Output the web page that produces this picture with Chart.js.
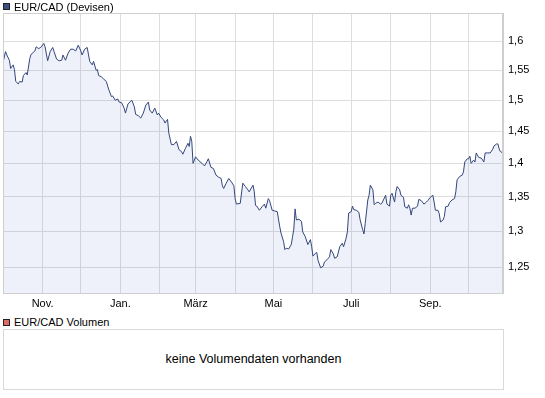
<!DOCTYPE html>
<html>
<head>
<meta charset="utf-8">
<script src="https://cdn.jsdelivr.net/npm/chart.js@4.4.0/dist/chart.umd.min.js"></script>
<style>
    body {
        margin: 0;
        width: 545px;
        height: 398px;
        background: #ffffff;
        position: relative;
        overflow: hidden;
        font-family: "Liberation Sans", Arial, sans-serif;
        font-size: 11px;
        color: #000000;
    }

    #priceChart {
        position: absolute;
        left: 0;
        top: 0;
    }

    .square {
        position: absolute;
        left: 3px;
        width: 5px;
        height: 5px;
        border: 1px solid #222222;
    }

    .legendText {
        position: absolute;
        left: 14px;
        line-height: 12px;
        white-space: nowrap;
    }

    #volumeBox {
        position: absolute;
        left: 3px;
        top: 329px;
        width: 501px;
        height: 61px;
        box-sizing: border-box;
        border: 1px solid #d9d9d9;
        text-align: center;
        line-height: 59px;
        font-size: 12.5px;
    }
</style>
</head>
<body>

<canvas id="priceChart" width="545" height="310"></canvas>

<div class="square" style="top:3px; background:#3d4f80;"></div>
<div class="legendText" style="top:1px;">EUR/CAD (Devisen)</div>

<div class="square" style="top:319px; background:#d86d67;"></div>
<div class="legendText" style="top:316px;">EUR/CAD Volumen</div>

<div id="volumeBox">keine Volumendaten vorhanden</div>

<script>
// days counted from 2009-10-01
const dayOffsets = [
    0, 2, 3, 5, 6, 8, 9, 10, 12, 13, 15, 16, 18, 19, 21, 22, 25, 26, 28, 30,
    32, 33, 35, 37, 39, 40, 42, 44, 46, 47, 49, 51, 53, 55, 57, 59, 61, 62, 64, 66,
    68, 70, 71, 73, 74, 75, 77, 79, 81, 83, 85, 86, 88, 90, 91, 93, 95, 96, 98, 101,
    103, 104, 106, 108, 110, 112, 114, 115, 117, 119, 121, 122, 124, 126, 127, 129, 130, 132, 134, 136,
    138, 140, 141, 143, 145, 146, 147, 148, 149, 151, 153, 156, 158, 160, 161, 163, 165, 167, 169, 171,
    172, 173, 175, 177, 179, 181, 182, 183, 186, 188, 190, 192, 193, 196, 197, 198, 199, 201, 203, 205,
    206, 208, 209, 211, 213, 215, 217, 218, 220, 221, 222, 224, 226, 227, 228, 229, 230, 232, 234, 235,
    237, 239, 241, 242, 243, 245, 246, 247, 249, 251, 252, 254, 256, 257, 259, 260, 262, 264, 266, 267,
    269, 270, 271, 273, 274, 275, 277, 279, 280, 282, 283, 284, 286, 287, 288, 290, 291, 292, 294, 296,
    297, 300, 301, 303, 304, 305, 307, 308, 309, 311, 312, 314, 315, 317, 318, 319, 320, 321, 323, 325,
    326, 328, 330, 332, 333, 335, 337, 338, 339, 341, 342, 343, 345, 346, 347, 349, 350, 352, 354, 355,
    356, 358, 360, 361, 362, 364, 365, 366, 367, 369, 370, 371, 373, 375, 377, 378, 380, 382, 384, 385,
    387, 388, 389, 390, 392
];

const closeValues = [
    1.563, 1.582, 1.576, 1.567, 1.553, 1.559, 1.551, 1.531, 1.527, 1.531, 1.530, 1.541, 1.546, 1.542, 1.570, 1.577, 1.583, 1.590, 1.587, 1.590,
    1.596, 1.590, 1.566, 1.582, 1.589, 1.582, 1.569, 1.566, 1.567, 1.576, 1.567, 1.579, 1.586, 1.586, 1.583, 1.593, 1.583, 1.576, 1.586, 1.589,
    1.565, 1.559, 1.565, 1.550, 1.551, 1.541, 1.539, 1.535, 1.531, 1.517, 1.506, 1.507, 1.500, 1.502, 1.497, 1.496, 1.487, 1.479, 1.494, 1.500,
    1.489, 1.477, 1.475, 1.471, 1.479, 1.492, 1.497, 1.484, 1.479, 1.487, 1.476, 1.479, 1.472, 1.468, 1.463, 1.469, 1.447, 1.429, 1.429, 1.434,
    1.421, 1.418, 1.414, 1.423, 1.431, 1.426, 1.442, 1.434, 1.400, 1.410, 1.405, 1.400, 1.396, 1.403, 1.407, 1.394, 1.392, 1.382, 1.379, 1.377,
    1.366, 1.362, 1.370, 1.377, 1.372, 1.366, 1.347, 1.339, 1.340, 1.370, 1.365, 1.360, 1.357, 1.367, 1.357, 1.337, 1.336, 1.330, 1.335, 1.339,
    1.333, 1.347, 1.344, 1.330, 1.329, 1.328, 1.306, 1.297, 1.285, 1.274, 1.276, 1.275, 1.281, 1.292, 1.303, 1.332, 1.316, 1.317, 1.314, 1.299,
    1.292, 1.281, 1.288, 1.278, 1.265, 1.269, 1.270, 1.259, 1.249, 1.251, 1.257, 1.260, 1.264, 1.274, 1.268, 1.262, 1.264, 1.278, 1.283, 1.278,
    1.290, 1.299, 1.326, 1.328, 1.336, 1.331, 1.330, 1.327, 1.316, 1.302, 1.296, 1.311, 1.345, 1.352, 1.367, 1.360, 1.338, 1.340, 1.342, 1.339,
    1.340, 1.352, 1.339, 1.336, 1.352, 1.355, 1.342, 1.357, 1.365, 1.360, 1.352, 1.349, 1.335, 1.333, 1.338, 1.333, 1.323, 1.333, 1.333, 1.336,
    1.346, 1.344, 1.339, 1.342, 1.344, 1.349, 1.352, 1.342, 1.330, 1.330, 1.325, 1.313, 1.316, 1.321, 1.335, 1.336, 1.341, 1.345, 1.347, 1.357,
    1.375, 1.380, 1.382, 1.387, 1.402, 1.407, 1.407, 1.411, 1.400, 1.405, 1.402, 1.416, 1.409, 1.408, 1.402, 1.416, 1.416, 1.416, 1.422, 1.427,
    1.430, 1.430, 1.422, 1.418, 1.416
];

const monthStarts = [31, 61, 92, 123, 151, 182, 212, 243, 273, 304, 335, 365];

const monthLabels = ['Nov.', '', 'Jan.', '', 'März', '', 'Mai', '', 'Juli', '', 'Sep.', ''];

const priceTicks = [1.25, 1.3, 1.35, 1.4, 1.45, 1.5, 1.55, 1.6];


Chart.defaults.font.family = '"Liberation Sans", Arial, sans-serif';
Chart.defaults.font.size = 11;
Chart.defaults.color = '#000000';

const frameBorder = {

    id: 'frameBorder',

    afterDraw(chart) {

        const area = chart.chartArea;
        const ctx = chart.ctx;

        ctx.save();
        ctx.strokeStyle = '#cfcfcf';
        ctx.lineWidth = 1;
        ctx.strokeRect(
            area.left + 0.5,
            area.top + 0.5,
            area.right - area.left - 1,
            area.bottom - area.top
        );
        ctx.restore();
    }
};

new Chart(document.getElementById('priceChart'), {

    type: 'line',

    data: {

        datasets: [{

            data: dayOffsets.map((d, i) => ({ x: d, y: closeValues[i] })),

            borderColor: '#34467a',

            borderWidth: 1,

            backgroundColor: 'rgba(60, 90, 200, 0.087)',

            fill: 'start',

            pointRadius: 0,

            tension: 0
        }]
    },

    options: {

        responsive: false,

        animation: false,

        layout: {
            padding: { left: 3, top: 13, right: 0, bottom: 0 }
        },

        plugins: {
            legend: { display: false },
            tooltip: { enabled: false }
        },

        scales: {

            x: {

                type: 'linear',

                min: 0,

                max: 392,

                afterBuildTicks: scale => {
                    scale.ticks = monthStarts.map(v => ({ value: v }));
                },

                afterFit: scale => {
                    scale.height = 17;
                },

                ticks: {
                    autoSkip: false,
                    maxRotation: 0,
                    padding: 4,
                    callback: (value, index) => monthLabels[index]
                },

                grid: {
                    color: '#dedede',
                    drawTicks: false
                },

                border: {
                    color: '#cfcfcf'
                }
            },

            y: {

                type: 'logarithmic',

                position: 'right',

                min: 1.215,

                max: 1.65,

                afterBuildTicks: scale => {
                    scale.ticks = priceTicks.map(v => ({ value: v }));
                },

                afterFit: scale => {
                    scale.width = 42;
                },

                ticks: {
                    padding: 5,
                    callback: value => String(value).replace('.', ',')
                },

                grid: {
                    color: '#dedede',
                    drawTicks: false
                },

                border: {
                    color: '#cfcfcf'
                }
            }
        }
    },

    plugins: [frameBorder]
});
</script>
</body>
</html>
